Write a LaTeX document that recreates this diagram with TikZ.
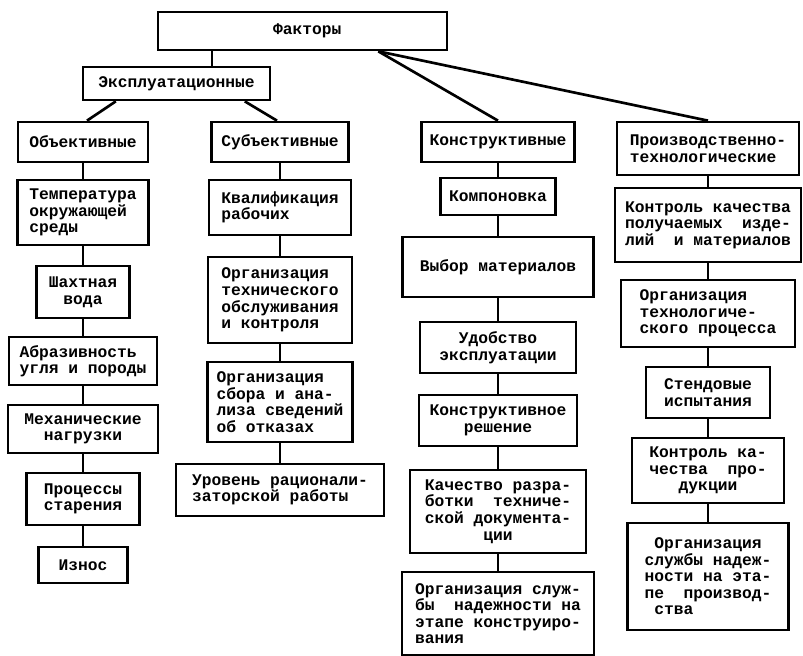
\documentclass[tikz,border=0pt]{standalone}
\usepackage{fontspec}
\setmainfont{Liberation Mono}
\usetikzlibrary{calc}

\tikzset{
    box/.style={draw=black, line width=2pt, inner sep=0pt, align=left},
    link/.style={draw=black, line width=2pt}
}

\begin{document}
\begin{tikzpicture}
    [x=0.75pt, y=-0.75pt,
    font=\bfseries\fontsize{12.2}{12.4}\selectfont]
    \useasboundingbox (0,0) rectangle (803,656);
    % top levels
    \node [box, minimum width=216.75pt, minimum height=28.5pt] (fact) at (302.5,31) {\hspace*{7pt}Факторы};
    \node [box, minimum width=140.25pt, minimum height=24.75pt] (expl) at (176.5,83.5) {Эксплуатационные};
    % objective
    \node [box, minimum width=97.5pt, minimum height=30pt] (obj) at (83,142) {Объективные};
    \node [box, minimum width=98.25pt, minimum height=48.75pt] (temp) at (83,212.5) {Температура\\окружающей\\среды};
    \node [box, minimum width=69.75pt, minimum height=39pt, align=center] (voda) at (83,292) {Шахтная\\вода};
    \node [box, minimum width=111pt, minimum height=36pt] (abraz) at (83,361) {Абразивность\\угля и породы};
    \node [box, minimum width=112.5pt, minimum height=36pt, align=center] (mech) at (83,429) {Механические\\нагрузки};
    \node [box, minimum width=84.75pt, minimum height=39pt] (star) at (83,499) {Процессы\\старения};
    \node [box, minimum width=66.75pt, minimum height=27pt] (iznos) at (83,565) {Износ};
    % subjective
    \node [box, minimum width=102.75pt, minimum height=30pt] (subj) at (280,142) {Субъективные};
    \node [box, minimum width=106.5pt, minimum height=41.25pt] (kval) at (280,207.5) {Квалификация\\рабочих};
    \node [box, minimum width=108pt, minimum height=64.5pt] (orgto) at (280,300) {Организация\\технического\\обслуживания\\и контроля};
    \node [box, minimum width=108.75pt, minimum height=60pt] (orgsb) at (280,402) {Организация\\сбора и ана-\\лиза сведений\\об отказах};
    \node [box, minimum width=156pt, minimum height=39pt] (urov) at (280,490) {Уровень рационали-\\заторской работы};
    % design
    \node [box, minimum width=114.75pt, minimum height=30pt] (konstr) at (498,142) {Конструктивные};
    \node [box, minimum width=86.25pt, minimum height=27.75pt] (komp) at (498,196.5) {Компоновка};
    \node [box, minimum width=143.25pt, minimum height=45pt] (vybor) at (498,267) {Выбор материалов};
    \node [box, minimum width=117pt, minimum height=38.25pt, align=center] (udob) at (498,347.5) {Удобство\\эксплуатации};
    \node [box, minimum width=118.5pt, minimum height=38.25pt, align=center] (reshen) at (498,420.5) {Конструктивное\\решение};
    \node [box, minimum width=132pt, minimum height=62.25pt, align=center] (kach) at (498,511.5) {Качество разра-\\ботки~~техниче-\\ской документа-\\ции};
    \node [box, minimum width=144pt, minimum height=62.25pt] (slkon) at (498,613.5) {Организация служ-\\бы~~надежности на\\этапе конструиро-\\вания};
    % production
    \node [box, minimum width=136.5pt, minimum height=39.75pt] (proizv) at (708,148.5) {Производственно-\\технологические};
    \node [box, minimum width=139.5pt, minimum height=55.5pt] (kontr) at (708,225) {Контроль качества\\получаемых~~изде-\\лий~~и материалов};
    \node [box, minimum width=130.5pt, minimum height=50.25pt] (orgtp) at (708,313.5) {Организация\\технологиче-\\ского процесса};
    \node [box, minimum width=93pt, minimum height=38.25pt, align=center] (stend) at (708,392.5) {Стендовые\\испытания};
    \node [box, minimum width=114pt, minimum height=48.75pt, align=center] (kprod) at (708,470.5) {Контроль ка-\\чества~~про-\\дукции};
    \node [box, minimum width=120.75pt, minimum height=80.25pt] (slpr) at (708,576.5) {~Организация\\службы надеж-\\ности на эта-\\пе~~производ-\\~ства};
    % connectors
    \coordinate (fexp) at ($(fact.south west)!0.19!(fact.south east)$);
    \coordinate (fright) at ($(fact.south west)!0.76!(fact.south east)$);
    \draw [link] (fexp) -- (fexp |- expl.north);
    \draw [link] (fright) -- (konstr.north);
    \draw [link] (fright) -- (proizv.north);
    \draw [link] ($(expl.south west)!0.18!(expl.south east)$) -- ($(obj.north)+(4,0)$);
    \draw [link] ($(expl.south west)!0.86!(expl.south east)$) -- ($(subj.north)+(-3,0)$);
    \foreach \a/\b in {obj/temp, temp/voda, voda/abraz, abraz/mech, mech/star, star/iznos,
        subj/kval, kval/orgto, orgto/orgsb, orgsb/urov,
        konstr/komp, komp/vybor, vybor/udob, udob/reshen, reshen/kach, kach/slkon,
        proizv/kontr, kontr/orgtp, orgtp/stend, stend/kprod, kprod/slpr}
        \draw [link] (\a.south) -- (\b.north);
\end{tikzpicture}
\end{document}
